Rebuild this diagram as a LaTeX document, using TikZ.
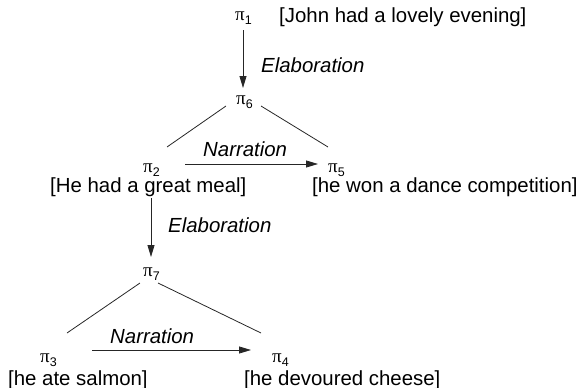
\documentclass[tikz,border=0pt]{standalone}
\usepackage{fontspec}
\setmainfont{Liberation Sans}
\newfontfamily\pifont{Liberation Serif}
\usetikzlibrary{arrows.meta}
\newcommand\pilab[1]{{\fontsize{19}{19}\selectfont\pifont π}\raisebox{-4pt}{\fontsize{12.5}{12.5}\selectfont #1}}
\begin{document}
\begin{tikzpicture}[x=1pt,y=-1pt,
  txt/.style={anchor=base west,inner sep=0pt,font=\fontsize{20.4}{22}\selectfont},
  lab/.style={anchor=base west,inner sep=0pt,font=\fontsize{20.4}{22}\selectfont\itshape},
  pnode/.style={anchor=base west,inner sep=0pt},
  conn/.style={draw=black!85,line width=0.8pt},
  arr/.style={conn,-{Triangle[length=12pt,width=7pt]}}]
\path[use as bounding box] (0,0) rectangle (579,388);
% pi nodes and texts
\node[pnode] (p1) at (235,20) {\pilab{1}};
\node[txt] (t1) at (279,23) {[John had a lovely evening]};
\node[pnode] (p6) at (236,104) {\pilab{6}};
\node[pnode] (p2) at (143,172) {\pilab{2}};
\node[txt] (t2) at (50,192) {[He had a great meal]};
\node[pnode] (p5) at (328,172) {\pilab{5}};
\node[txt] (t5) at (312,192) {[he won a dance competition]};
\node[pnode] (p7) at (143,276) {\pilab{7}};
\node[pnode] (p3) at (40,362) {\pilab{3}};
\node[txt] (t3) at (8,385) {[he ate salmon]};
\node[pnode] (p4) at (272,362) {\pilab{4}};
\node[txt] (t4) at (244,385) {[he devoured cheese]};
% relation labels
\node[lab] (e1) at (261,72) {Elaboration};
\node[lab] (n1) at (203,156) {Narration};
\node[lab] (e2) at (168,232) {Elaboration};
\node[lab] (n2) at (110,343) {Narration};
% connector end points
\coordinate (p1s) at (243,30);
\coordinate (p6n) at (243,88);
\coordinate (p6l) at (226,106);
\coordinate (p2t) at (167,147);
\coordinate (p6r) at (261,106);
\coordinate (p5t) at (328,147);
\coordinate (p2e) at (185,164);
\coordinate (p5w) at (318,164);
\coordinate (p2s) at (151,198);
\coordinate (p7n) at (151,257);
\coordinate (p7l) at (140,283);
\coordinate (p3t) at (67,333);
\coordinate (p7r) at (158,283);
\coordinate (p4t) at (261,333);
\coordinate (p3e) at (92,350);
\coordinate (p4w) at (251,350);
% connectors
\draw[arr] (p1s) -- (p6n);
\draw[conn] (p6l) -- (p2t);
\draw[conn] (p6r) -- (p5t);
\draw[arr] (p2e) -- (p5w);
\draw[arr] (p2s) -- (p7n);
\draw[conn] (p7l) -- (p3t);
\draw[conn] (p7r) -- (p4t);
\draw[arr] (p3e) -- (p4w);
\end{tikzpicture}
\end{document}
